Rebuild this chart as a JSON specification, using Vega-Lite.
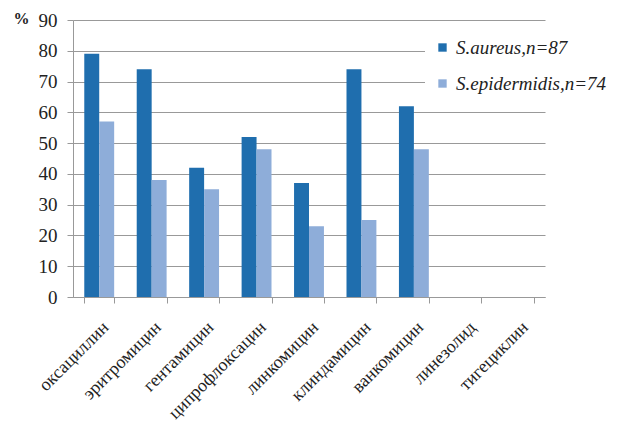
{
  "$schema": "https://vega.github.io/schema/vega-lite/v6.json",
  "autosize": "none",
  "width": 472,
  "height": 277,
  "padding": {"left": 73, "top": 20, "right": 74, "bottom": 129},
  "background": "white",
  "data": {"values": [
    {"drug": "оксациллин", "series": "S.aureus,n=87", "value": 79},
    {"drug": "оксациллин", "series": "S.epidermidis,n=74", "value": 57},
    {"drug": "эритромицин", "series": "S.aureus,n=87", "value": 74},
    {"drug": "эритромицин", "series": "S.epidermidis,n=74", "value": 38},
    {"drug": "гентамицин", "series": "S.aureus,n=87", "value": 42},
    {"drug": "гентамицин", "series": "S.epidermidis,n=74", "value": 35},
    {"drug": "ципрофлоксацин", "series": "S.aureus,n=87", "value": 52},
    {"drug": "ципрофлоксацин", "series": "S.epidermidis,n=74", "value": 48},
    {"drug": "линкомицин", "series": "S.aureus,n=87", "value": 37},
    {"drug": "линкомицин", "series": "S.epidermidis,n=74", "value": 23},
    {"drug": "клиндамицин", "series": "S.aureus,n=87", "value": 74},
    {"drug": "клиндамицин", "series": "S.epidermidis,n=74", "value": 25},
    {"drug": "ванкомицин", "series": "S.aureus,n=87", "value": 62},
    {"drug": "ванкомицин", "series": "S.epidermidis,n=74", "value": 48},
    {"drug": "линезолид", "series": "S.aureus,n=87", "value": 0},
    {"drug": "линезолид", "series": "S.epidermidis,n=74", "value": 0},
    {"drug": "тигециклин", "series": "S.aureus,n=87", "value": 0},
    {"drug": "тигециклин", "series": "S.epidermidis,n=74", "value": 0}
  ]},
  "mark": {"type": "bar"},
  "encoding": {
    "x": {
      "field": "drug", "type": "nominal", "sort": null,
      "scale": {"paddingInner": 0.43, "paddingOuter": 0.215},
      "axis": {
        "title": null, "labelAngle": -45, "labelFont": "'Liberation Serif', 'Times New Roman', serif", "labelFontSize": 18,
        "labelColor": "#222", "domainColor": "#999", "tickColor": "#999", "tickBand": "extent",
        "tickSize": 6, "labelPadding": 15, "grid": false
      }
    },
    "xOffset": {"field": "series", "type": "nominal", "scale": {"paddingInner": 0, "paddingOuter": 0}},
    "y": {
      "field": "value", "type": "quantitative",
      "scale": {"domain": [0, 90], "nice": false},
      "axis": {
        "title": "%", "titleAngle": 0, "titleFont": "'Liberation Serif', serif", "titleFontSize": 16, "titleFontWeight": "bold",
        "titleX": -60, "titleY": 6, "titleAlign": "left", "titleColor": "#222",
        "values": [0,10,20,30,40,50,60,70,80,90],
        "labelFont": "'Liberation Serif', 'Times New Roman', serif", "labelFontSize": 19, "labelColor": "#222",
        "tickSize": 6, "tickColor": "#999", "labelPadding": 10,
        "domainColor": "#999", "gridColor": "#999", "gridWidth": 1.2
      }
    },
    "color": {
      "field": "series", "type": "nominal",
      "scale": {"range": ["#1f6eae", "#8eadd9"]},
      "legend": {
        "title": null, "orient": "none", "legendX": 352, "legendY": 10,
        "fillColor": "white", "padding": 8, "labelLimit": 300,
        "labelFont": "'Liberation Serif', 'Times New Roman', serif", "labelFontSize": 19, "labelFontStyle": "italic", "labelColor": "#222",
        "symbolType": "square", "symbolSize": 70, "rowPadding": 16, "symbolStrokeWidth": 0
      }
    }
  },
  "config": {"view": {"stroke": null}}
}
